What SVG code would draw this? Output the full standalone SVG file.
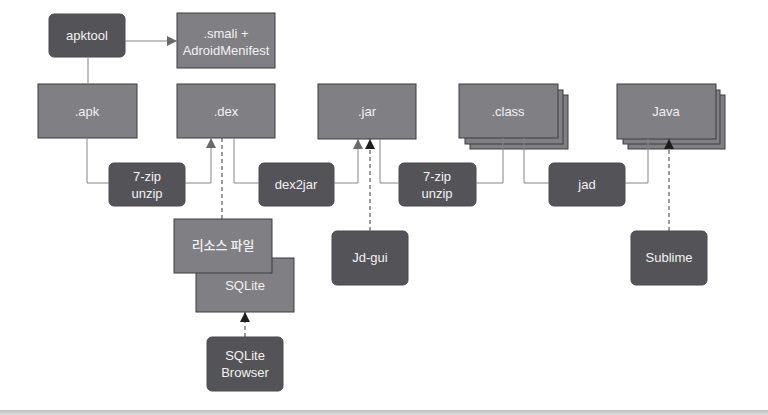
<svg xmlns="http://www.w3.org/2000/svg" width="768" height="415" viewBox="0 0 768 415">
<defs>
<style>
.tool{fill:#545358;stroke:#4a494e;stroke-width:1}
.file{fill:#807f83;stroke:#3c3c3e;stroke-width:1}
.t{font-family:"Liberation Sans",Arial,sans-serif;font-size:13px;fill:#f2f2f2;text-anchor:middle}
.k{font-family:"Noto Sans CJK KR","Liberation Sans",sans-serif;font-size:13px;fill:#f2f2f2;text-anchor:middle;font-weight:500}
.ln{fill:none;stroke:#858585;stroke-width:1}
.dl{fill:none;stroke:#3a3a3a;stroke-width:1;stroke-dasharray:4,3}
</style>
<linearGradient id="bar" x1="0" y1="0" x2="0" y2="1"><stop offset="0" stop-color="#bdbdbd"/><stop offset="1" stop-color="#dedede"/></linearGradient>
<marker id="ag" markerUnits="userSpaceOnUse" markerWidth="10" markerHeight="10" viewBox="0 0 10 10" refX="10" refY="5" orient="auto">
<path d="M0,0 L10,5 L0,10 Z" fill="#6a6a6a"/>
</marker>
<marker id="ab" markerUnits="userSpaceOnUse" markerWidth="10" markerHeight="10" viewBox="0 0 10 10" refX="10" refY="5" orient="auto">
<path d="M0,0 L10,5 L0,10 Z" fill="#1e1e1e"/>
</marker>
</defs>
<rect x="0" y="0" width="768" height="415" fill="#ffffff"/>
<rect x="0" y="410" width="768" height="5" fill="url(#bar)"/>

<g id="apktool"><rect class="tool" x="49" y="14" width="76" height="43" rx="5"/><text class="t" x="87" y="40">apktool</text></g>
<g id="smali"><rect class="file" x="177" y="13" width="98" height="55"/><text class="t" x="226" y="38">.smali +</text><text class="t" x="226" y="55">AdroidMenifest</text></g>
<g id="apk"><rect class="file" x="38" y="84" width="99" height="54"/><text class="t" x="87" y="116">.apk</text></g>
<g id="dex"><rect class="file" x="177" y="84" width="98" height="54"/><text class="t" x="226" y="116">.dex</text></g>
<g id="jar"><rect class="file" x="318" y="84" width="98" height="55"/><text class="t" x="367" y="116">.jar</text></g>
<g id="class"><rect class="file" x="470" y="95" width="98" height="54"/><rect class="file" x="465" y="90" width="98" height="54"/><rect class="file" x="459" y="84" width="99" height="54"/><text class="t" x="508" y="116">.class</text></g>
<g id="java"><rect class="file" x="628" y="95" width="97" height="54"/><rect class="file" x="623" y="90" width="97" height="54"/><rect class="file" x="617" y="84" width="99" height="55"/><text class="t" x="666" y="116">Java</text></g>

<g id="unzip1"><rect class="tool" x="109" y="163" width="76" height="43" rx="5"/><text class="t" x="147" y="181">7-zip</text><text class="t" x="147" y="198">unzip</text></g>
<g id="dex2jar"><rect class="tool" x="259" y="163" width="75" height="43" rx="5"/><text class="t" x="296" y="189">dex2jar</text></g>
<g id="unzip2"><rect class="tool" x="399" y="163" width="77" height="43" rx="5"/><text class="t" x="437" y="181">7-zip</text><text class="t" x="437" y="198">unzip</text></g>
<g id="jad"><rect class="tool" x="549" y="163" width="76" height="43" rx="5"/><text class="t" x="587" y="189">jad</text></g>

<g id="sqlite"><rect class="file" x="196" y="258" width="98" height="54"/><text class="t" x="245" y="290">SQLite</text></g>
<g id="resource"><rect class="file" x="174" y="219" width="98" height="54"/><text class="k" x="223" y="250">리소스 파일</text></g>
<g id="jdgui"><rect class="tool" x="332" y="231" width="76" height="54" rx="5"/><text class="t" x="370" y="262">Jd-gui</text></g>
<g id="sublime"><rect class="tool" x="631" y="231" width="76" height="54" rx="5"/><text class="t" x="669" y="262">Sublime</text></g>
<g id="sqlitebrowser"><rect class="tool" x="207" y="337" width="76" height="54" rx="5"/><text class="t" x="245" y="360">SQLite</text><text class="t" x="245" y="377">Browser</text></g>

<g id="connectors">
<path class="ln" d="M125,41 H177" marker-end="url(#ag)"/>
<path class="ln" d="M88,57 V84"/>
<path class="ln" d="M87,138 V183 H109"/>
<path class="ln" d="M185,183 H211 V138" marker-end="url(#ag)"/>
<path class="ln" d="M234,138 V183 H259"/>
<path class="ln" d="M334,183 H358 V139" marker-end="url(#ag)"/>
<path class="ln" d="M380,139 V183 H399"/>
<path class="ln" d="M476,183 H503 V138"/>
<path class="ln" d="M524,138 V183 H549"/>
<path class="ln" d="M625,183 H648 V139"/>
<path class="dl" d="M222,138 V219"/>
<path class="dl" d="M370,231 V139" marker-end="url(#ab)"/>
<path class="dl" d="M669,231 V139" marker-end="url(#ab)"/>
<path class="dl" d="M245,337 V312" marker-end="url(#ab)"/>
</g>
</svg>
